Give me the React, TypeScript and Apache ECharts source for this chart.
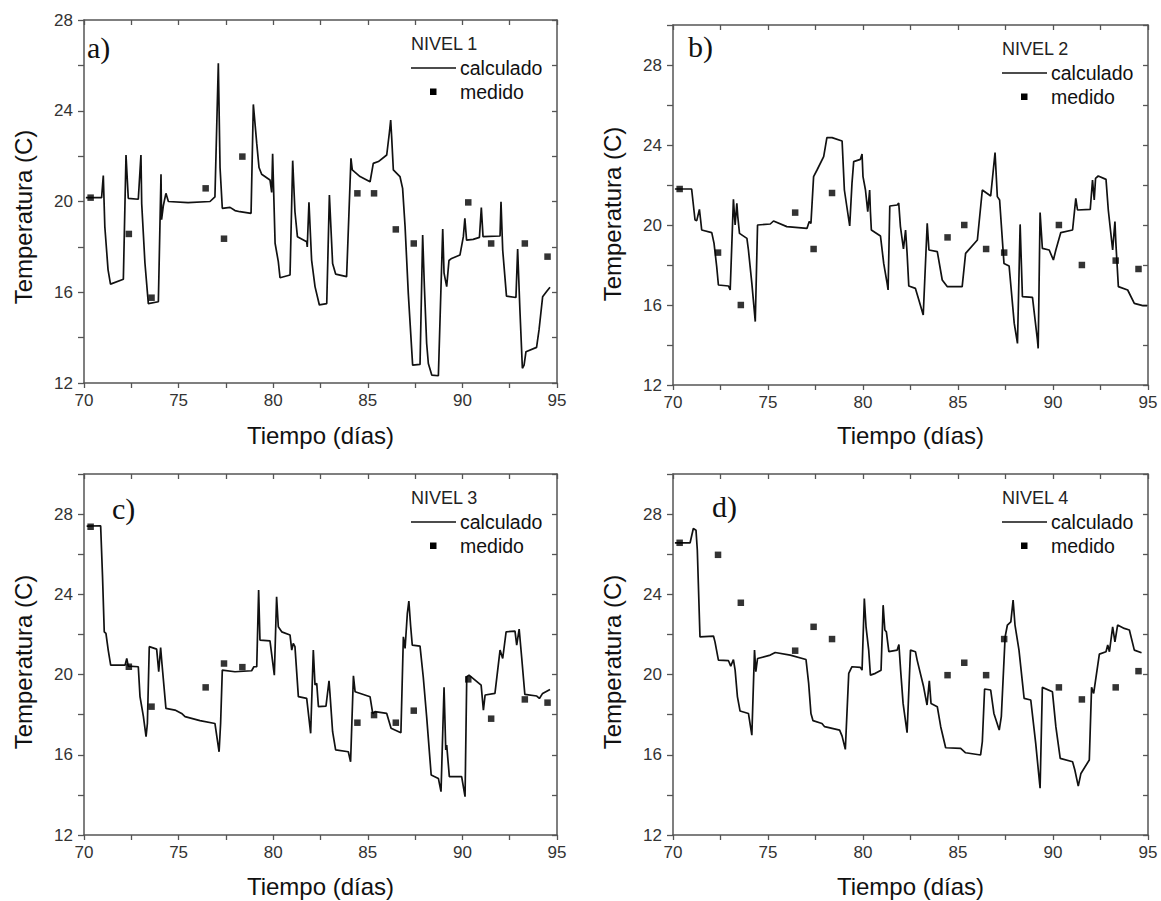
import React, { useEffect, useRef } from "react";
import * as echarts from "echarts";

// ---- DATA ----
const measuredDays = [70.35, 72.37, 73.57, 76.43, 77.4, 78.37, 84.45, 85.33, 86.48, 87.43, 90.31, 91.52, 93.3, 94.5];

const measuredA = [20.17, 18.57, 15.76, 20.58, 18.36, 21.98, 20.36, 20.36, 18.77, 18.15, 19.96, 18.15, 18.15, 17.57];
const measuredB = [21.8, 18.62, 16.0, 20.62, 18.8, 21.6, 19.38, 20.0, 18.8, 18.62, 20.0, 18.0, 18.22, 17.8];
const measuredC = [27.37, 20.39, 18.4, 19.36, 20.55, 20.37, 17.6, 17.98, 17.6, 18.2, 19.76, 17.8, 18.76, 18.6];
const measuredD = [26.57, 25.97, 23.58, 21.19, 22.38, 21.77, 19.97, 20.59, 19.97, 21.77, 19.36, 18.76, 19.36, 20.17];

const calcA: number[][] = [
  [70.1, 20.17], [70.93, 20.17], [71.02, 21.14], [71.1, 18.9], [71.27, 17.0], [71.4, 16.36], [72.08, 16.57],
  [72.22, 22.05], [72.34, 20.14], [72.87, 20.1], [73.01, 22.05], [73.05, 19.9], [73.22, 17.3], [73.4, 15.5],
  [73.93, 15.58], [74.07, 21.2], [74.1, 19.2], [74.19, 19.8], [74.33, 20.36], [74.46, 20.0], [75.5, 19.95],
  [76.66, 20.0], [76.92, 20.2], [77.1, 26.09], [77.19, 21.5], [77.31, 19.7], [77.72, 19.74], [77.98, 19.6],
  [78.24, 19.55], [78.83, 19.48], [78.95, 24.28], [79.13, 22.56], [79.25, 21.5], [79.39, 21.2], [79.83, 20.95],
  [79.92, 20.4], [79.97, 22.1], [80.1, 18.16], [80.27, 17.35], [80.36, 16.64], [80.89, 16.76], [81.03, 21.8],
  [81.15, 19.55], [81.28, 18.45], [81.77, 18.23], [81.8, 18.0], [81.89, 19.96], [82.03, 17.42], [82.21, 16.25],
  [82.44, 15.44], [82.83, 15.5], [82.97, 20.29], [83.14, 17.27], [83.3, 16.8], [83.88, 16.69], [84.11, 21.9],
  [84.18, 21.39], [84.59, 21.1], [85.12, 20.87], [85.29, 21.68], [85.56, 21.76], [86.0, 22.05], [86.14, 23.03],
  [86.21, 23.59], [86.26, 22.86], [86.35, 21.39], [86.7, 21.1], [86.84, 20.58], [86.97, 18.9], [87.14, 15.95],
  [87.37, 12.79], [87.76, 12.82], [87.9, 18.52], [87.99, 16.25], [88.11, 13.75], [88.2, 12.86], [88.38, 12.35],
  [88.73, 12.32], [88.96, 18.79], [89.03, 16.84], [89.17, 16.25], [89.29, 17.4], [89.43, 17.49], [89.87, 17.64],
  [90.05, 18.45], [90.13, 19.26], [90.22, 18.3], [90.57, 18.33], [90.9, 18.42], [91.0, 19.73], [91.09, 18.45],
  [91.99, 18.48], [92.04, 19.99], [92.13, 17.86], [92.33, 15.83], [92.83, 15.77], [92.92, 17.9], [93.04, 15.22],
  [93.17, 12.65], [93.26, 12.79], [93.36, 13.38], [93.92, 13.57], [94.05, 14.34], [94.24, 15.8], [94.45, 16.03],
  [94.63, 16.22],
];

const calcB: number[][] = [
  [70.1, 21.8], [70.98, 21.8], [71.16, 20.25], [71.25, 20.22], [71.39, 20.78], [71.46, 20.2], [71.51, 19.75],
  [72.04, 19.62], [72.16, 19.08], [72.3, 17.92], [72.39, 17.0], [72.92, 16.95], [73.01, 16.75], [73.18, 21.28],
  [73.27, 20.0], [73.36, 21.08], [73.41, 20.42], [73.5, 19.58], [73.89, 19.33], [73.97, 18.75], [74.15, 17.08],
  [74.33, 15.17], [74.45, 20.0], [75.12, 20.05], [75.29, 20.2], [75.99, 19.92], [77.05, 19.83], [77.17, 20.17],
  [77.26, 20.08], [77.4, 22.42], [77.58, 22.75], [77.93, 23.42], [78.02, 23.92], [78.1, 24.37], [78.37, 24.37],
  [78.9, 24.2], [79.02, 21.75], [79.3, 19.95], [79.42, 22.08], [79.51, 23.17], [79.86, 23.28], [79.95, 23.55],
  [80.0, 22.42], [80.13, 21.75], [80.25, 20.67], [80.35, 21.75], [80.39, 20.67], [80.44, 19.75], [80.92, 19.45],
  [81.09, 18.08], [81.27, 17.08], [81.32, 16.75], [81.41, 20.95], [81.8, 21.0], [81.88, 21.1], [81.97, 19.92],
  [82.13, 18.8], [82.24, 19.75], [82.32, 18.6], [82.41, 16.95], [82.76, 16.83], [82.94, 16.25], [83.17, 15.5],
  [83.38, 20.08], [83.47, 18.75], [83.91, 18.67], [84.17, 17.25], [84.43, 16.92], [85.22, 16.92], [85.4, 18.58],
  [86.02, 19.25], [86.28, 21.75], [86.72, 21.45], [86.95, 23.62], [87.07, 21.42], [87.19, 21.25], [87.42, 18.08],
  [87.69, 17.95], [87.96, 15.08], [88.13, 14.08], [88.27, 20.03], [88.39, 16.42], [88.92, 16.38], [89.18, 14.25],
  [89.22, 13.83], [89.32, 20.62], [89.44, 18.83], [89.8, 18.75], [90.02, 18.25], [90.15, 18.75], [90.41, 19.62],
  [91.03, 19.75], [91.2, 21.33], [91.29, 20.75], [91.96, 20.78], [92.08, 22.25], [92.17, 21.25], [92.24, 22.33],
  [92.38, 22.45], [92.79, 22.28], [92.91, 20.75], [93.14, 18.75], [93.26, 20.17], [93.31, 19.08], [93.44, 16.92],
  [93.93, 16.75], [94.28, 16.08], [94.72, 15.97], [94.95, 15.97],
];

const calcC: number[][] = [
  [70.14, 27.4], [70.88, 27.42], [70.98, 24.87], [71.07, 22.13], [71.16, 22.05], [71.28, 21.22], [71.41, 20.47],
  [72.17, 20.47], [72.26, 20.8], [72.34, 20.42], [72.87, 20.39], [72.96, 18.9], [73.14, 17.9], [73.28, 16.9],
  [73.35, 17.56], [73.45, 21.39], [73.84, 21.27], [73.95, 20.14], [74.05, 21.34], [74.12, 20.55], [74.33, 18.31],
  [74.81, 18.23], [75.16, 18.06], [75.34, 17.9], [76.13, 17.7], [76.92, 17.56], [77.14, 16.15], [77.22, 17.56],
  [77.31, 20.22], [77.98, 20.14], [78.86, 20.19], [78.98, 20.39], [79.13, 20.39], [79.23, 24.21], [79.3, 21.72],
  [79.83, 21.68], [80.06, 19.97], [80.18, 23.88], [80.27, 22.38], [80.45, 22.13], [80.89, 21.97], [80.98, 21.22],
  [81.06, 21.55], [81.15, 21.39], [81.33, 18.9], [81.77, 18.81], [81.98, 17.07], [82.12, 21.22], [82.21, 19.48],
  [82.3, 19.56], [82.39, 18.4], [82.79, 18.43], [82.95, 19.69], [83.0, 19.06], [83.14, 17.15], [83.3, 16.24],
  [83.97, 16.15], [84.09, 15.65], [84.24, 19.94], [84.33, 19.14], [85.12, 18.89], [85.26, 18.06], [85.38, 18.15],
  [86.0, 18.06], [86.23, 17.32], [86.75, 17.1], [86.88, 21.88], [86.97, 21.3], [87.09, 23.05], [87.17, 23.66],
  [87.26, 22.47], [87.35, 21.47], [87.76, 21.42], [87.93, 19.89], [88.11, 17.9], [88.35, 14.99], [88.73, 14.82],
  [88.87, 14.16], [89.03, 19.36], [89.12, 16.24], [89.17, 16.49], [89.31, 14.91], [89.96, 14.91], [90.14, 13.91],
  [90.23, 19.89], [90.35, 19.97], [90.99, 19.47], [91.11, 18.23], [91.2, 18.98], [91.72, 19.06], [91.99, 21.22],
  [92.13, 20.8], [92.31, 22.13], [92.78, 22.17], [92.87, 21.47], [93.0, 22.27], [93.13, 20.89], [93.3, 19.01],
  [93.93, 18.93], [94.07, 18.81], [94.24, 19.06], [94.63, 19.26],
];

const calcD: number[][] = [
  [70.1, 26.57], [70.9, 26.57], [71.07, 27.28], [71.21, 27.2], [71.28, 26.2], [71.42, 21.88], [72.13, 21.92],
  [72.21, 21.63], [72.39, 20.72], [72.92, 20.69], [73.04, 20.42], [73.18, 20.75], [73.27, 20.22], [73.39, 18.9],
  [73.53, 18.18], [73.97, 18.06], [74.15, 16.98], [74.29, 21.22], [74.36, 20.14], [74.45, 20.8], [75.12, 20.97],
  [75.38, 21.1], [76.17, 20.97], [77.0, 20.75], [77.14, 19.56], [77.26, 18.06], [77.37, 17.7], [77.84, 17.56],
  [77.98, 17.4], [78.77, 17.23], [78.9, 16.93], [79.07, 16.27], [79.25, 20.06], [79.42, 20.39], [79.86, 20.36],
  [79.95, 20.22], [80.07, 23.79], [80.16, 22.38], [80.3, 21.22], [80.39, 19.97], [80.65, 20.06], [80.95, 20.22],
  [81.06, 23.46], [81.15, 22.22], [81.23, 22.13], [81.36, 21.14], [81.8, 21.22], [81.89, 21.5], [81.98, 20.22],
  [82.11, 18.56], [82.32, 17.1], [82.5, 21.22], [82.76, 21.14], [82.85, 20.72], [83.19, 19.39], [83.37, 18.48],
  [83.49, 19.69], [83.58, 18.56], [83.91, 18.4], [84.09, 17.4], [84.35, 16.35], [85.14, 16.32], [85.4, 16.1],
  [86.19, 15.99], [86.28, 16.65], [86.4, 19.28], [86.72, 19.23], [86.89, 18.06], [87.17, 17.23], [87.28, 17.9],
  [87.48, 21.88], [87.6, 22.47], [87.78, 22.63], [87.9, 23.71], [88.0, 22.47], [88.21, 21.22], [88.48, 18.81],
  [88.83, 18.73], [89.09, 16.57], [89.32, 14.33], [89.44, 19.36], [89.97, 19.14], [90.15, 17.4], [90.38, 15.82],
  [91.03, 15.65], [91.15, 15.24], [91.33, 14.44], [91.47, 15.07], [91.91, 15.74], [92.03, 19.36], [92.14, 19.06],
  [92.44, 21.02], [92.79, 21.14], [92.88, 21.47], [92.97, 21.14], [93.14, 22.38], [93.26, 21.63], [93.4, 22.47],
  [93.75, 22.3], [94.02, 22.22], [94.28, 21.22], [94.66, 21.09],
];

const panelLetters = ["a)", "b)", "c)", "d)"];
const levelNames = ["NIVEL 1", "NIVEL 2", "NIVEL 3", "NIVEL 4"];
const legendLine = "calculado";
const legendPoint = "medido";
const xTitle = "Tiempo (días)";
const yTitle = "Temperatura (C)";
const xMin = 70, xMax = 95, xStep = 2.5, xLabelStep = 5;
const yMin = 12, yStep = 2, yLabelStep = 4;
const yMaxes = [28, 30, 30, 30];

// ---- LAYOUT ----
const panels = [
  { calc: calcA, meas: measuredA, left: 84, top: 20, width: 473, height: 363, letter: [87, 47.5], yTitleY: 217, xTitleY: 435 },
  { calc: calcB, meas: measuredB, left: 673, top: 25, width: 475, height: 360, letter: [688, 46.5], yTitleY: 214, xTitleY: 435 },
  { calc: calcC, meas: measuredC, left: 84, top: 474, width: 473, height: 361, letter: [112, 508], yTitleY: 662, xTitleY: 886 },
  { calc: calcD, meas: measuredD, left: 673, top: 474, width: 475, height: 361, letter: [712, 506.5], yTitleY: 662, xTitleY: 886 },
];

const SANS = "'Liberation Sans', Arial, sans-serif";
const SERIF = "'Liberation Serif', 'Times New Roman', serif";
const AXIS_COLOR = "#555";
const LABEL_COLOR = "#333";

function buildOption() {
  const grid: any[] = [];
  const xAxis: any[] = [];
  const yAxis: any[] = [];
  const series: any[] = [];
  const graphic: any[] = [];

  panels.forEach((p, i) => {
    grid.push({ left: p.left, top: p.top, width: p.width, height: p.height, containLabel: false });
    const yMax = yMaxes[i];
    const axisLine = { show: true, onZero: false, lineStyle: { color: AXIS_COLOR, width: 1.5 } };
    const tickStyle = { lineStyle: { color: AXIS_COLOR, width: 1.3 } };
    xAxis.push({
      type: "value", gridIndex: i, position: "bottom", min: xMin, max: xMax, interval: xStep,
      axisLine, axisTick: { show: true, inside: false, length: 5, ...tickStyle },
      splitLine: { show: false },
      axisLabel: {
        show: true, margin: 9, color: LABEL_COLOR, fontSize: 17, fontFamily: SANS,
        formatter: (v: number) => (Math.abs(v % xLabelStep) < 1e-6 ? String(v) : ""),
      },
    });
    xAxis.push({
      type: "value", gridIndex: i, position: "top", min: xMin, max: xMax, interval: xStep,
      axisLine, axisTick: { show: true, inside: true, length: 5, ...tickStyle },
      splitLine: { show: false }, axisLabel: { show: false },
    });
    yAxis.push({
      type: "value", gridIndex: i, position: "left", min: yMin, max: yMax, interval: yStep,
      axisLine, axisTick: { show: true, inside: false, length: 6, ...tickStyle },
      splitLine: { show: false },
      axisLabel: {
        show: true, margin: 11, color: LABEL_COLOR, fontSize: 17, fontFamily: SANS,
        formatter: (v: number) => (Math.abs(v % yLabelStep) < 1e-6 ? String(v) : ""),
      },
    });
    yAxis.push({
      type: "value", gridIndex: i, position: "right", min: yMin, max: yMax, interval: yStep,
      axisLine, axisTick: { show: true, inside: true, length: 5, ...tickStyle },
      splitLine: { show: false }, axisLabel: { show: false },
    });

    series.push({
      type: "line", name: legendLine, xAxisIndex: 2 * i, yAxisIndex: 2 * i,
      data: p.calc, showSymbol: false, symbol: "none", smooth: false,
      lineStyle: { color: "#111", width: 1.7 }, z: 2,
    });
    series.push({
      type: "scatter", name: legendPoint, xAxisIndex: 2 * i, yAxisIndex: 2 * i,
      data: measuredDays.map((d, k) => [d, p.meas[k]]),
      symbol: "rect", symbolSize: 6.5, itemStyle: { color: "#000" }, z: 3,
    });

    const right = p.left + p.width;
    // panel letter
    graphic.push({
      type: "text", x: p.letter[0], y: p.letter[1],
      style: { text: panelLetters[i], font: `30px ${SERIF}`, fontSize: 30, fontFamily: SERIF, fill: "#111",
        textAlign: "left", align: "left", textVerticalAlign: "middle", verticalAlign: "middle" },
    });
    // legend
    graphic.push({
      type: "text", x: right - 146, y: p.top + 23.7,
      style: { text: levelNames[i], font: `18px ${SANS}`, fontSize: 18, fontFamily: SANS, fill: "#222",
        textAlign: "left", align: "left", textVerticalAlign: "middle", verticalAlign: "middle" },
    });
    graphic.push({
      type: "line", shape: { x1: right - 146, y1: p.top + 48, x2: right - 101, y2: p.top + 48 },
      style: { stroke: "#111", lineWidth: 1.7 },
    });
    graphic.push({
      type: "text", x: right - 97, y: p.top + 47.5,
      style: { text: legendLine, font: `19.5px ${SANS}`, fontSize: 19.5, fontFamily: SANS, fill: "#111",
        textAlign: "left", align: "left", textVerticalAlign: "middle", verticalAlign: "middle" },
    });
    graphic.push({
      type: "rect", shape: { x: right - 127, y: p.top + 68.5, width: 6.5, height: 6.5 },
      style: { fill: "#000" },
    });
    graphic.push({
      type: "text", x: right - 97, y: p.top + 71.5,
      style: { text: legendPoint, font: `19.5px ${SANS}`, fontSize: 19.5, fontFamily: SANS, fill: "#111",
        textAlign: "left", align: "left", textVerticalAlign: "middle", verticalAlign: "middle" },
    });
    // axis titles
    graphic.push({
      type: "text", x: p.left + p.width / 2, y: p.xTitleY,
      style: { text: xTitle, font: `24px ${SANS}`, fontSize: 24, fontFamily: SANS, fill: "#111",
        textAlign: "center", align: "center", textVerticalAlign: "middle", verticalAlign: "middle" },
    });
    graphic.push({
      type: "text", x: p.left - 61, y: p.yTitleY, rotation: Math.PI / 2,
      style: { text: yTitle, font: `24px ${SANS}`, fontSize: 24, fontFamily: SANS, fill: "#111",
        textAlign: "center", align: "center", textVerticalAlign: "middle", verticalAlign: "middle" },
    });
  });

  return {
    animation: false,
    backgroundColor: "#fff",
    grid, xAxis, yAxis, series, graphic,
  };
}

export default function App() {
  const ref = useRef<HTMLDivElement>(null);
  useEffect(() => {
    if (!ref.current) return;
    const chart = echarts.init(ref.current, null, { renderer: "svg" });
    chart.setOption(buildOption() as any);
    return () => chart.dispose();
  }, []);
  return (
    <div
      ref={ref}
      style={{ position: "fixed", left: 0, top: 0, width: 1161, height: 901, background: "#fff" }}
    />
  );
}
